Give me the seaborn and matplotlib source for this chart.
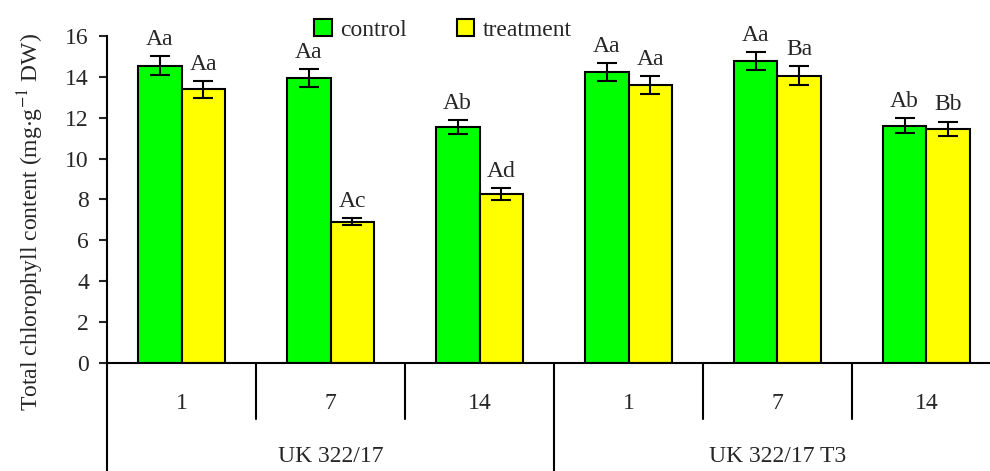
import pandas as pd
import seaborn as sns
import matplotlib.pyplot as plt
from matplotlib.patches import Patch
from matplotlib.transforms import blended_transform_factory

# data
groups = ['UK 322/17', 'UK 322/17 T3']
days = ['1', '7', '14']
control = [14.55, 13.96, 11.55, 14.24, 14.77, 11.61]
control_err = [0.47, 0.44, 0.35, 0.45, 0.45, 0.36]
treatment = [13.39, 6.91, 8.27, 13.60, 14.06, 11.45]
treatment_err = [0.42, 0.18, 0.28, 0.42, 0.45, 0.36]
control_lab = ['Aa', 'Aa', 'Ab', 'Aa', 'Aa', 'Ab']
treatment_lab = ['Aa', 'Ac', 'Ad', 'Aa', 'Ba', 'Bb']

slots = [g + '|' + d for g in groups for d in days]
df = pd.DataFrame({
    'slot': slots * 2,
    'cond': ['control'] * 6 + ['treatment'] * 6,
    'value': control + treatment,
})

sns.set_style('white')
plt.rcParams['font.family'] = ['Liberation Serif', 'DejaVu Serif']
plt.rcParams['mathtext.fontset'] = 'stix'
FS = 17

fig = plt.figure(figsize=(9.9, 4.71), dpi=100)
ax = fig.add_axes([0.1081, 0.2293, 0.903, 0.6943])

colors = {'control': '#00ff00', 'treatment': '#ffff00'}
sns.barplot(data=df, x='slot', y='value', hue='cond', palette=colors,
            width=0.59, edgecolor='black', linewidth=1.5, ax=ax,
            errorbar=None, legend=False, saturation=1)

bars = [p for p in ax.patches if p.get_height() > 0]
vals = control + treatment
errs = control_err + treatment_err
labs = control_lab + treatment_lab
for p, v, e, lab in zip(bars, vals, errs, labs):
    cx = p.get_x() + p.get_width() / 2
    ax.errorbar(cx, v, yerr=e, color='black', capsize=7, elinewidth=1.5,
                capthick=1.5, zorder=5)
    ax.text(cx, v + e + 0.3, lab, ha='center', va='bottom', fontsize=FS)

ax.set_xlim(-0.5, 5.5)
ax.set_ylim(0, 16)
ax.set_yticks(range(0, 17, 2))
ax.tick_params(axis='y', direction='out', length=6, width=1.5,
               labelsize=FS, left=True, pad=7)
ax.set_xticks([])
ax.set_xlabel('')
ax.set_ylabel('')
for s in ['top', 'right']:
    ax.spines[s].set_visible(False)
for s in ['left', 'bottom']:
    ax.spines[s].set_linewidth(1.5)
    ax.spines[s].set_color('black')

# two-level category axis
tr = blended_transform_factory(ax.transData, ax.transAxes)
for x in [0.5, 1.5, 3.5, 4.5]:
    ax.plot([x, x], [0, -0.171], transform=tr, color='black', lw=1.5,
            clip_on=False)
for x in [-0.5, 2.5]:
    ax.plot([x, x], [0, -0.34], transform=tr, color='black', lw=1.5,
            clip_on=False)
for i, s in enumerate(slots):
    ax.text(i, -0.125, s.split('|')[1], transform=tr, ha='center',
            va='center', fontsize=FS)
for j, g in enumerate(groups):
    ax.text(1 + 3 * j, -0.287, g, transform=tr, ha='center', va='center',
            fontsize=FS)

fig.text(0.031, 0.529, 'Total chlorophyll content (mg$\\cdot$g$^{-1}$ DW)',
         rotation=90, ha='center', va='center', fontsize=FS)

handles = [Patch(facecolor=colors[k], edgecolor='black', linewidth=1.5)
           for k in ['control', 'treatment']]
fig.legend(handles, ['control', 'treatment'], loc='center',
           bbox_to_anchor=(0.4475, 0.937), ncol=2, frameon=False,
           fontsize=FS, handlelength=0.75, handleheight=0.75,
           handletextpad=0.35, columnspacing=2.1)

fig.savefig('out.png', dpi=100)
